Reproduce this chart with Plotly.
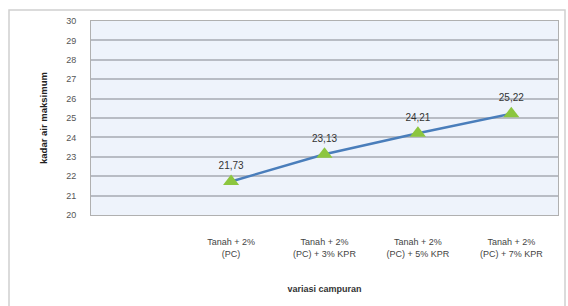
import plotly.graph_objects as go

categories = ["Tanah + 2%<br>(PC)", "Tanah + 2%<br>(PC) + 3% KPR",
              "Tanah + 2%<br>(PC) + 5% KPR", "Tanah + 2%<br>(PC) + 7% KPR"]
values = [21.73, 23.13, 24.21, 25.22]
value_labels = ["21,73", "23,13", "24,21", "25,22"]
y_ticks = list(range(20, 31))

L, R, T, B = 91, 10, 21, 91
W, H = 568, 306
pw, ph = W - L - R, H - T - B

fig = go.Figure()
fig.add_trace(go.Scatter(
    x=list(range(len(categories))), y=values,
    mode="lines+markers+text",
    line=dict(color="#4a7ebb", width=2.5),
    marker=dict(symbol="triangle-up", size=14, color="#8cc63f"),
    text=value_labels, textposition="top center",
    textfont=dict(family="Liberation Sans, Arial", size=10, color="#333333"),
    cliponaxis=False, showlegend=False, hoverinfo="skip",
))

fig.update_layout(
    width=W, height=H,
    margin=dict(l=L, r=R, t=T, b=B, autoexpand=False),
    paper_bgcolor="white", plot_bgcolor="#eef3fb",
    font=dict(family="Liberation Sans, Arial", size=9, color="#444444"),
    xaxis=dict(
        range=[-1.5, 3.5], tickmode="array",
        tickvals=list(range(len(categories))), ticktext=categories,
        showgrid=False, zeroline=False, showline=True, linecolor="#b0b0b0",
        mirror=True, ticks="", tickfont=dict(size=9, color="#444444"),
        ticklabelstandoff=18, automargin=False,
        title=dict(text="<b>variasi campuran</b>", font=dict(size=9, color="#333333"), standoff=28),
    ),
    yaxis=dict(
        range=[20, 30], tickmode="array", tickvals=y_ticks,
        showgrid=True, gridcolor="#b8bcc4", gridwidth=1.5, zeroline=False,
        showline=True, linecolor="#b0b0b0", mirror=True, ticks="",
        tickfont=dict(size=9, color="#555555"), ticklabelstandoff=12, automargin=False,
        title=dict(text="<b>kadar air maksimum</b>", font=dict(size=9.5, color="#222222"), standoff=16),
    ),
    shapes=[dict(type="rect", xref="paper", yref="paper",
                 x0=(9 - L) / pw, x1=(565 - L) / pw,
                 y0=-0.6, y1=(H - B - 10) / ph,
                 line=dict(color="#d0d0d0", width=1.5), layer="below")],
)

fig.write_html("out.html", config={"displayModeBar": False},
               post_script="document.body.style.margin='0';document.body.style.overflow='hidden';")
